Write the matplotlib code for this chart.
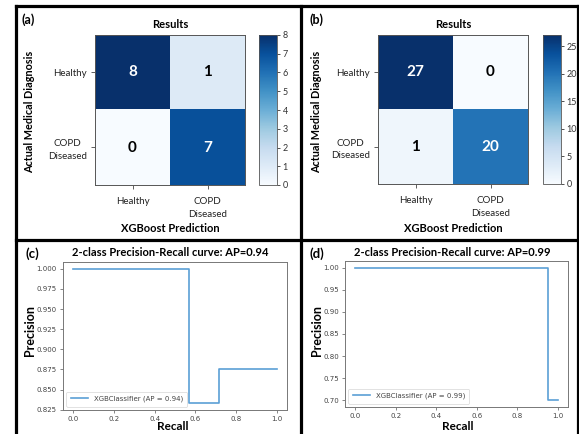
import numpy as np
import matplotlib
matplotlib.use("Agg")
import matplotlib.pyplot as plt
from matplotlib.lines import Line2D

# Confusion matrices (rows: actual, cols: predicted)
classes = ["Healthy", "COPD\nDiseased"]
cm_a = [[8, 1], [0, 7]]
cm_b = [[27, 0], [1, 20]]
cbar_ticks_a = [0, 1, 2, 3, 4, 5, 6, 7, 8]
cbar_ticks_b = [0, 5, 10, 15, 20, 25]

# Precision-recall curves (recall decreasing, as returned by sklearn)
recall_c = [1.0, 0.714, 0.571, 0.0]
precision_c = [0.875, 0.833, 1.0, 1.0]
ap_c = 0.94
recall_d = [1.0, 0.952, 0.0]
precision_d = [0.70, 1.0, 1.0]
ap_d = 0.99

W, H = 579, 434
fig = plt.figure(figsize=(W / 100, H / 100), dpi=100)
fig.patch.set_facecolor("white")

SANS = ["Lato", "DejaVu Sans"]


def box(x0, y0, x1, y1):
    """Axes rectangle from pixel coords (top-left origin)."""
    return [x0 / W, 1 - y1 / H, (x1 - x0) / W, (y1 - y0) / H]


def ftext(x, y, s, **kw):
    fig.text(x / W, 1 - y / H, s, **kw)


def confusion_panel(cm, ax_px, cb_px, cticks, letter, letter_xy, ylab_x):
    cm = np.array(cm)
    ax = fig.add_axes(box(*ax_px))
    cax = fig.add_axes(box(*cb_px))
    im = ax.imshow(cm, cmap="Blues", vmin=0, vmax=cm.max(), aspect="auto",
                   interpolation="nearest")
    cb = fig.colorbar(im, cax=cax, ticks=cticks)
    cb.outline.set_linewidth(0.6)
    cb.outline.set_edgecolor("#555555")
    cax.tick_params(labelsize=6.5, length=2.5, width=0.6, pad=1.5,
                    colors="#333333")
    for lbl in cax.get_yticklabels():
        lbl.set_family(SANS)

    ax.set_xticks(range(len(classes)))
    ax.set_yticks(range(len(classes)))
    ax.set_xticklabels(classes, family=SANS, fontsize=7, color="#222222",
                       linespacing=1.45)
    ax.set_yticklabels(classes, family=SANS, fontsize=7, color="#222222",
                       multialignment="center", linespacing=1.45)
    ax.tick_params(axis="x", length=3, width=0.6, pad=6, colors="#444444")
    ax.tick_params(axis="y", length=3, width=0.6, pad=3, colors="#444444")
    for lbl in ax.get_xticklabels() + ax.get_yticklabels():
        lbl.set_color("#222222")
    for sp in ax.spines.values():
        sp.set_linewidth(0.7)
        sp.set_edgecolor("#555555")

    thresh = cm.max() / 2.0
    for i in range(cm.shape[0]):
        for j in range(cm.shape[1]):
            ax.text(j, i, str(cm[i, j]), ha="center", va="center",
                    fontsize=11, fontweight="bold", family=SANS,
                    color="white" if cm[i, j] > thresh else "black")

    ax.set_title("Results", fontsize=8, fontweight="bold", family=SANS, pad=5)
    cx = (ax_px[0] + ax_px[2]) / 2
    ftext(cx, 229, "XGBoost Prediction", ha="center", va="center",
          fontsize=8, fontweight="bold", family=SANS)
    ftext(ylab_x, 112, "Actual Medical Diagnosis", ha="center", va="center",
          rotation=90, fontsize=7.8, fontweight="bold", family=SANS)
    ftext(letter_xy[0], letter_xy[1], letter, ha="left", va="center",
          fontsize=9, fontweight="bold", family=SANS)


def pr_panel(recall, precision, ap, ax_px, letter, letter_xy, ylab_x,
             title_x, recall_x):
    ax = fig.add_axes(box(*ax_px))
    ax.plot(recall, precision, drawstyle="steps-post", color="#5b9fd6",
            lw=1.2, label=f"XGBClassifier (AP = {ap:.2f})")
    ax.set_xticks([0.0, 0.2, 0.4, 0.6, 0.8, 1.0])
    ax.tick_params(labelsize=5, length=2.5, width=0.5, pad=2,
                   colors="#555555", labelcolor="#444444")
    for sp in ax.spines.values():
        sp.set_linewidth(0.7)
        sp.set_edgecolor("#777777")
    leg = ax.legend(loc="lower left", fontsize=5, handlelength=2.5,
                    borderpad=0.6, frameon=True, fancybox=True)
    leg.get_frame().set_linewidth(0.5)
    leg.get_frame().set_edgecolor("#cccccc")
    for t in leg.get_texts():
        t.set_color("#444444")

    ftext(title_x, 252, f"2-class Precision-Recall curve: AP={ap:.2f}",
          ha="center", va="center", fontsize=8, fontweight="bold",
          family=SANS)
    ftext(ylab_x, 330, "Precision", ha="center", va="center", rotation=90,
          fontsize=9, fontweight="bold", family=SANS)
    ftext(recall_x, 427, "Recall", ha="center", va="center", fontsize=8.5,
          fontweight="bold", family=SANS)
    ftext(letter_xy[0], letter_xy[1], letter, ha="left", va="center",
          fontsize=9.5, fontweight="bold", family=SANS)


confusion_panel(cm_a, (95, 35, 245, 185), (259, 35, 277, 185), cbar_ticks_a,
                "(a)", (22, 20), 30)
confusion_panel(cm_b, (378, 35, 528, 184), (543, 35, 561, 184), cbar_ticks_b,
                "(b)", (309, 20), 317)
pr_panel(recall_c, precision_c, ap_c, (63, 262, 287, 410), "(c)", (25, 254),
         30, 170, 173)
pr_panel(recall_d, precision_d, ap_d, (345, 261, 568, 407), "(d)", (309, 254),
         317, 452, 458)

# Panel frame: outer border and dividers
lw = 2.3
for (x0, y0, x1, y1) in [(15.5, 6, 577.5, 6),        # top
                         (15.5, 6, 15.5, 434),       # left
                         (577.5, 6, 577.5, 434),     # right
                         (300.5, 6, 300.5, 434),     # middle vertical
                         (15.5, 239.5, 577.5, 239.5)]:  # middle horizontal
    fig.add_artist(Line2D([x0 / W, x1 / W], [1 - y0 / H, 1 - y1 / H],
                          transform=fig.transFigure, color="black", lw=lw,
                          solid_capstyle="projecting"))

fig.savefig("out.png", dpi=100)
